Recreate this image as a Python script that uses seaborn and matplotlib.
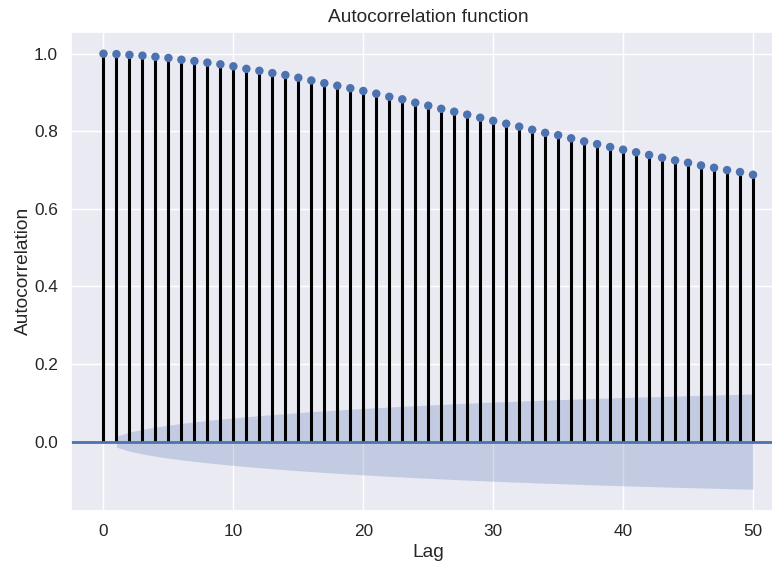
import numpy as np
import pandas as pd
import matplotlib
matplotlib.use("Agg")
import matplotlib.pyplot as plt
import seaborn as sns

# Data
lags = list(range(51))
acf_values = [
    1.000, 0.999, 0.997, 0.995, 0.992, 0.989, 0.9845, 0.981, 0.977, 0.9727,
    0.9675, 0.961, 0.956, 0.950, 0.945, 0.938, 0.931, 0.924, 0.9175, 0.911,
    0.904, 0.897, 0.889, 0.8825, 0.8737, 0.866, 0.858, 0.8505, 0.843, 0.835,
    0.827, 0.8196, 0.812, 0.804, 0.796, 0.790, 0.782, 0.774, 0.767, 0.7595,
    0.7526, 0.746, 0.739, 0.732, 0.725, 0.719, 0.712, 0.706, 0.700, 0.695,
    0.688,
]
nobs = 19000  # sample size behind the Bartlett confidence band
title = "Autocorrelation function"
xlabel = "Lag"
ylabel = "Autocorrelation"

sns.set_theme(style="darkgrid")
plt.rcParams["font.family"] = ["Liberation Sans", "DejaVu Sans"]

df = pd.DataFrame({"lag": lags, "acf": acf_values})

# Bartlett's formula band (as statsmodels plot_acf draws it)
acf_arr = np.asarray(acf_values)
varacf = np.ones(len(acf_arr)) / nobs
varacf[0] = 0
varacf[1] = 1.0 / nobs
varacf[2:] *= 1 + 2 * np.cumsum(acf_arr[1:-1] ** 2)
band = 1.96 * np.sqrt(varacf)

fig = plt.figure(figsize=(7.72, 5.61), dpi=100)
ax = fig.add_axes([71 / 772, 1 - 510.7 / 561, (785.5 - 71) / 772, (510.7 - 32) / 561])
c0 = sns.color_palette()[0]

ax.vlines(df["lag"], 0, df["acf"], colors="black", linewidth=2.2)
ax.axhline(0, color=c0, linewidth=2)
ax.fill_between(df["lag"][1:], -band[1:], band[1:], color=c0, alpha=0.25,
                linewidth=0)
sns.scatterplot(data=df, x="lag", y="acf", ax=ax, color=c0, s=37,
                edgecolor="none", zorder=3)

ax.set_xlim(-2.5, 52.5)
ax.set_ylim(-0.178, 1.056)
ax.set_title(title, fontsize=13.8, pad=7)
ax.set_xlabel(xlabel, fontsize=13.8, labelpad=4)
ax.set_ylabel(ylabel, fontsize=13.8, labelpad=1)
ax.tick_params(labelsize=12.4)

fig.savefig("out.png", dpi=100)
